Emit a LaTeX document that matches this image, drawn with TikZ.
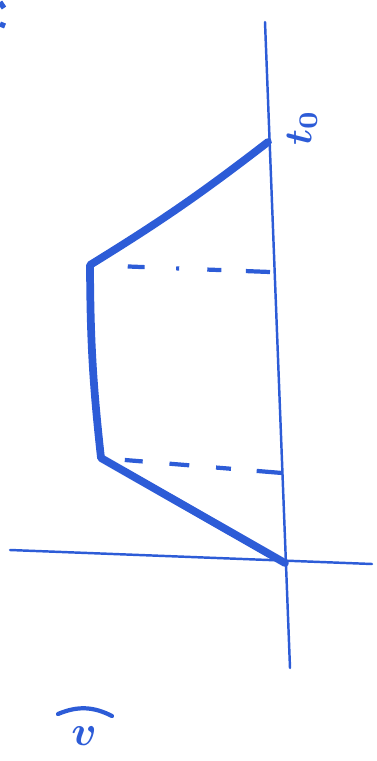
\documentclass[tikz,border=0pt]{standalone}
\usepackage{amsmath}
\usepackage{tikz}
\usetikzlibrary{positioning}
\definecolor{pen}{RGB}{45,92,215}
\tikzset{axisline/.style={pen,line width=1.4pt,line cap=round},
  boundary/.style={pen,line width=4.4pt,line cap=round,line join=round},
  levelline/.style={pen,line width=2.4pt}}

\begin{document}
\begin{tikzpicture}[x=0.02cm,y=-0.02cm]
      \useasboundingbox (0,0) rectangle (376,761);
      % axes
      \coordinate (ytop) at (265,22);
      \coordinate (ybot) at (290,668);
      \coordinate (xleft) at (10,550);
      \coordinate (xright) at (372,564);
      \draw[axisline] (ytop) -- (ybot);
      \draw[axisline] (xleft) -- (xright);
      % corners of the curve
      \coordinate (top) at (268,142);
      \coordinate (upper) at (90,265);
      \coordinate (lower) at (101,458);
      \coordinate (origin) at (285,563);
      \draw[boundary] (top) to [bend left=3] (upper)
         to [bend right=3] (lower) -- (origin);
      % levels
      \coordinate (upperend) at (270,272);
      \coordinate (lowerend) at (282,473);
      \draw[levelline,dash pattern=on 0pt off 21.5pt on 9.6pt off 18pt on 1.7pt off 16pt on 8pt off 14pt on 14pt] (upper) -- (upperend);
      \draw[levelline,dash pattern=on 0pt off 13.6pt on 10.2pt off 15.3pt on 11.3pt off 15.3pt on 8.5pt off 14.7pt on 14pt] (lower) -- (lowerend);
      % labels
      \node[pen,rotate=90,scale=2.2] (tlab) at (302,128) {$\boldsymbol{t_0}$};
      \node[pen,scale=2.4] (vlab) at (84,736) {$\boldsymbol{v}$};
      \draw[pen,line width=2.4pt,line cap=round] (58,714) to [bend left=25] (112,716);
      \draw[pen,line width=3pt] (0,2) -- (4,8) (0,24) -- (5,26);
  \end{tikzpicture}
\end{document}
